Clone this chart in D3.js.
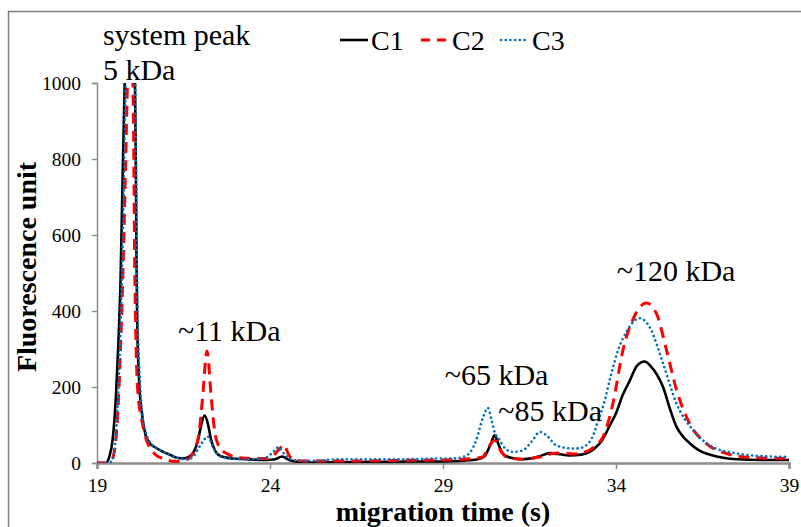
<!DOCTYPE html>
<html>
<head>
<meta charset="utf-8">
<script src="https://cdn.jsdelivr.net/npm/d3@7"></script>
<style>
  body { margin: 0; background: #fff; }
  svg { display: block; }
</style>
</head>
<body>
<svg width="801" height="527"></svg>
<script>
// series: [migration time (s), fluorescence unit]
var c1 = [[19,0],[19.25,0],[19.35,15],[19.45,60],[19.55,180],[19.62,320],[19.68,480],[19.74,750],[19.8,1000],
  [19.9,1250],[20.0,1250],[20.08,1150],[20.12,800],[20.14,560],[20.16,380],[20.22,210],[20.3,130],[20.4,75],
  [20.5,55],[20.7,40],[20.9,30],[21.1,22],[21.3,14],[21.5,12],[21.65,16],[21.8,30],[21.92,60],[22.0,95],
  [22.11,125],[22.2,105],[22.3,60],[22.4,35],[22.5,22],[22.7,15],[22.9,12],[23.3,10],[23.9,8],[24.15,10],
  [24.35,17],[24.55,8],[24.8,3],[25.2,1],[26,2],[27,3],[28,4],[29,4],[29.6,6],[30.0,10],[30.2,18],[30.38,50],
  [30.49,73],[30.6,50],[30.7,28],[30.83,18],[31.0,13],[31.3,10],[31.6,13],[31.8,18],[32.08,26],[32.3,24],
  [32.66,20],[33.0,22],[33.24,29],[33.4,40],[33.6,60],[33.8,95],[34.0,131],[34.2,180],[34.39,215],[34.6,255],
  [34.83,267],[35.0,255],[35.2,230],[35.36,200],[35.55,145],[35.75,95],[35.95,68],[36.13,52],[36.4,33],
  [36.8,20],[37.1,14],[37.5,10],[38.2,8],[39,8]];

var c2 = [[19,0],[19.3,0],[19.4,3],[19.5,30],[19.6,130],[19.68,300],[19.75,503],[19.82,760],[19.88,1000],
  [19.95,1200],[20.0,1150],[20.06,850],[20.09,520],[20.11,400],[20.17,200],[20.3,110],[20.38,77],[20.47,51],
  [20.6,32],[20.7,21],[20.9,12],[21.1,6],[21.3,4],[21.5,6],[21.7,16],[21.85,40],[21.95,80],[22.05,170],
  [22.18,295],[22.3,175],[22.4,85],[22.5,48],[22.6,34],[22.75,25],[22.9,18],[23.13,14],[23.5,12],[23.9,12],[24.1,20],
  [24.3,40],[24.4,48],[24.55,20],[24.7,9],[25,5],[26,5],[27,6],[28,7],[29,8],[29.58,10],[30.15,16],[30.3,40],
  [30.5,60],[30.65,35],[30.83,16],[31.3,10],[31.8,16],[32.28,26],[32.76,24],[33.14,30],[33.4,45],[33.62,68],
  [33.91,156],[34.2,297],[34.5,380],[34.88,421],[35.17,393],[35.46,297],[35.75,192],[36.13,104],[36.61,51],
  [37.19,25],[37.96,14],[39,12]];

var c3 = [[19,0],[19.35,0],[19.45,10],[19.55,80],[19.63,220],[19.7,420],[19.77,700],[19.83,1000],[19.92,1250],
  [20.05,1200],[20.1,1050],[20.14,700],[20.17,420],[20.25,200],[20.32,120],[20.45,70],[20.6,48],[20.8,35],
  [21.0,25],[21.3,14],[21.5,10],[21.7,12],[21.79,18],[21.97,44],[22.1,62],[22.2,70],[22.36,40],[22.55,18],
  [22.8,12],[23.2,10],[23.6,10],[23.9,15],[24.1,30],[24.25,42],[24.4,25],[24.6,10],[24.9,6],[25.3,6],[26,10],
  [27,10],[28,10],[29,12],[29.3,12],[29.58,16],[29.8,30],[29.96,60],[30.15,118],[30.3,145],[30.4,113],
  [30.5,80],[30.64,60],[30.8,38],[31.02,29],[31.3,33],[31.55,55],[31.8,82],[32.0,72],[32.28,46],[32.76,38],
  [33.0,40],[33.1,44],[33.3,65],[33.5,115],[33.65,156],[33.85,230],[34.06,297],[34.3,345],[34.68,381],
  [34.97,358],[35.36,262],[35.75,156],[36.23,86],[36.8,42],[37.5,25],[38.2,18],[39,16]];

var seriesNames = ["C1", "C2", "C3"];
var xTicks = [19, 24, 29, 34, 39];
var yTicks = [0, 200, 400, 600, 800, 1000];

// annotation labels: [text, time, value] (left edge / baseline)
var notes = [
  ["system peak", 19.17, 1100],
  ["5 kDa", 19.17, 1008],
  ["~11 kDa", 21.34, 321],
  ["~65 kDa", 29.05, 205],
  ["~85 kDa", 30.6, 110],
  ["~120 kDa", 34.02, 480]
];

var serif = "Liberation Serif";

var svg = d3.select("svg"),
  width = +svg.attr("width"),
  height = +svg.attr("height");

var margin = {top: 83, right: 12, bottom: 64, left: 97};

var x = d3.scaleLinear().domain([19, 39]).range([margin.left, width - margin.right]);
var y = d3.scaleLinear().domain([0, 1000]).range([height - margin.bottom, margin.top]);

// outer frame
svg.append("rect")
  .attr("x", 8.5).attr("y", 11.5)
  .attr("width", 800).attr("height", 540)
  .attr("fill", "none")
  .attr("stroke", "#7f7f7f")
  .attr("stroke-width", 1.5);

var axisColor = "#8c8c8c";

var xAxis = svg.append("g")
  .attr("transform", "translate(0," + y(0) + ")")
  .call(d3.axisBottom(x).tickValues(xTicks).tickSize(6).tickPadding(9).tickFormat(d3.format("d")));

var yAxis = svg.append("g")
  .attr("transform", "translate(" + x(19) + ",0)")
  .call(d3.axisLeft(y).tickValues(yTicks).tickSize(5).tickPadding(11).tickFormat(d3.format("d")));

[xAxis, yAxis].forEach(function(g) {
  g.attr("font-family", serif).attr("font-size", 19.5);
  g.selectAll("path, line").attr("stroke", axisColor);
  g.selectAll("text").attr("fill", "#000");
});
xAxis.select(".domain").attr("stroke-width", 2.5);
xAxis.selectAll(".tick line").attr("stroke-width", 1.5);
yAxis.select(".domain").attr("stroke-width", 1.5);
yAxis.selectAll(".tick line").attr("stroke-width", 1.5);

svg.append("clipPath").attr("id", "plot")
  .append("rect")
  .attr("x", x(19)).attr("y", y(1000))
  .attr("width", x(39) - x(19)).attr("height", y(0) - y(1000));

var line = d3.line()
  .x(function(d) { return x(d[0]); })
  .y(function(d) { return y(d[1]); })
  .curve(d3.curveMonotoneX);

var styles = [
  {data: c1, color: "#000000", width: 2.6, dash: null, cap: "butt"},
  {data: c2, color: "#ff0000", width: 3, dash: "11,7", cap: "butt"},
  {data: c3, color: "#0070c0", width: 2.6, dash: "0.1,4.6", cap: "round"}
];

var lines = svg.append("g").attr("clip-path", "url(#plot)");
styles.forEach(function(s) {
  lines.append("path")
    .datum(s.data)
    .attr("fill", "none")
    .attr("stroke", s.color)
    .attr("stroke-width", s.width)
    .attr("stroke-dasharray", s.dash)
    .attr("stroke-linecap", s.cap)
    .attr("stroke-linejoin", "round")
    .attr("d", line);
});

// legend
var legendX = [340, 421, 501];
var legend = svg.append("g");
styles.forEach(function(s, i) {
  legend.append("line")
    .attr("x1", legendX[i]).attr("x2", legendX[i] + 28)
    .attr("y1", 40).attr("y2", 40)
    .attr("stroke", s.color)
    .attr("stroke-width", s.width)
    .attr("stroke-dasharray", i == 1 ? "9,7" : s.dash)
    .attr("stroke-linecap", s.cap);
  legend.append("text")
    .attr("x", legendX[i] + 31).attr("y", 50)
    .attr("font-family", serif).attr("font-size", 28)
    .text(seriesNames[i]);
});

svg.append("g").selectAll("text")
  .data(notes)
  .enter().append("text")
  .attr("x", function(d) { return x(d[1]); })
  .attr("y", function(d) { return y(d[2]); })
  .attr("font-family", serif)
  .attr("font-size", 30)
  .text(function(d) { return d[0]; });

// axis titles
svg.append("text")
  .attr("x", (x(19) + x(39)) / 2)
  .attr("y", 521)
  .attr("text-anchor", "middle")
  .attr("font-family", serif)
  .attr("font-size", 28)
  .attr("font-weight", "bold")
  .text("migration time (s)");

svg.append("text")
  .attr("transform", "translate(36," + ((y(0) + y(1000)) / 2 - 6) + ") rotate(-90)")
  .attr("text-anchor", "middle")
  .attr("font-family", serif)
  .attr("font-size", 28)
  .attr("font-weight", "bold")
  .text("Fluorescence unit");
</script>
</body>
</html>
